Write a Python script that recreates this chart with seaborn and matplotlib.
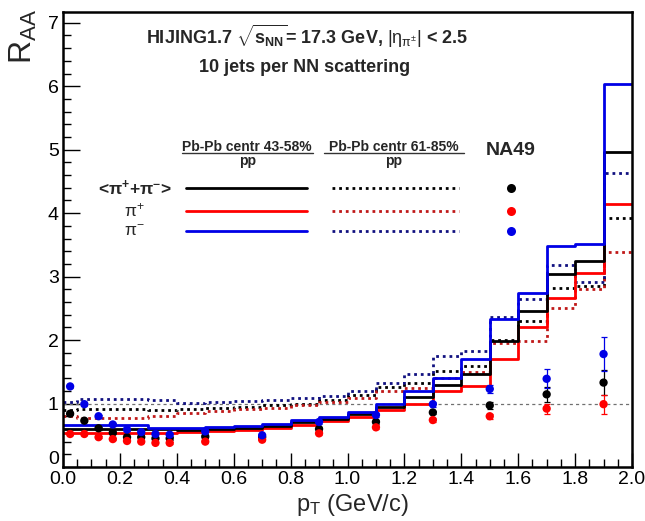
import numpy as np
import matplotlib
matplotlib.use("Agg")
import matplotlib.pyplot as plt
import matplotlib.transforms as mtransforms
import seaborn as sns

# pT bin edges (GeV/c) of the HIJING histograms
bin_edges = [0.0, 0.05, 0.1, 0.2, 0.3, 0.4, 0.5, 0.6, 0.7, 0.8, 0.9, 1.0,
             1.1, 1.2, 1.3, 1.4, 1.5, 1.6, 1.7, 1.8, 1.9, 2.0]

# HIJING R_AA, Pb-Pb centrality 43-58% / pp
raa_c43_avg = [0.60, 0.60, 0.60, 0.60, 0.60, 0.59, 0.60, 0.62, 0.65, 0.71, 0.76,
               0.83, 0.95, 1.11, 1.30, 1.46, 1.98, 2.46, 3.04, 3.25, 4.97]
raa_c43_pip = [0.54, 0.54, 0.53, 0.53, 0.53, 0.55, 0.57, 0.59, 0.61, 0.66, 0.72,
               0.79, 0.90, 0.99, 1.19, 1.28, 1.70, 2.21, 2.67, 3.05, 4.14]
raa_c43_pim = [0.66, 0.66, 0.66, 0.66, 0.62, 0.61, 0.625, 0.645, 0.68, 0.74, 0.79,
               0.87, 0.99, 1.19, 1.41, 1.70, 2.34, 2.735, 3.48, 3.51, 6.04]

# HIJING R_AA, Pb-Pb centrality 61-85% / pp
raa_c61_avg = [0.90, 0.91, 0.91, 0.91, 0.90, 0.92, 0.93, 0.95, 0.97, 1.00, 1.05,
               1.13, 1.255, 1.33, 1.51, 1.59, 2.00, 2.30, 2.82, 2.86, 3.92]
raa_c61_pip = [0.80, 0.77, 0.77, 0.77, 0.80, 0.85, 0.88, 0.91, 0.93, 0.97, 1.03,
               1.08, 1.19, 1.24, 1.40, 1.49, 1.96, 1.99, 2.51, 2.80, 3.39]
raa_c61_pim = [1.03, 1.07, 1.07, 1.07, 1.05, 1.01, 1.02, 1.04, 1.06, 1.08, 1.12,
               1.20, 1.33, 1.46, 1.75, 1.83, 2.36, 2.64, 3.19, 2.92, 4.64]

# NA49 measurements
na49_pt = [0.025, 0.075, 0.125, 0.175, 0.225, 0.275, 0.325, 0.375,
           0.5, 0.7, 0.9, 1.1, 1.3, 1.5, 1.7, 1.9]
na49_avg = [0.84, 0.73, 0.61, 0.54, 0.47, 0.47, 0.45, 0.45,
            0.48, 0.47, 0.60, 0.71, 0.86, 0.97, 1.145, 1.33]
na49_pip = [0.52, 0.52, 0.47, 0.44, 0.41, 0.40, 0.38, 0.38,
            0.40, 0.43, 0.53, 0.625, 0.74, 0.80, 0.92, 0.99]
na49_pim = [1.27, 0.99, 0.80, 0.67, 0.59, 0.55, 0.52, 0.51,
            0.56, 0.50, 0.71, 0.82, 0.99, 1.23, 1.39, 1.78]
na49_err_avg = [0.02, 0.02, 0.02, 0.02, 0.02, 0.02, 0.02, 0.02,
                0.02, 0.02, 0.03, 0.03, 0.03, 0.05, 0.12, 0.20]
na49_err_pip = [0.02, 0.02, 0.02, 0.02, 0.02, 0.02, 0.02, 0.02,
                0.02, 0.02, 0.03, 0.03, 0.03, 0.04, 0.08, 0.15]
na49_err_pim = [0.03, 0.03, 0.02, 0.02, 0.02, 0.02, 0.02, 0.02,
                0.02, 0.02, 0.03, 0.03, 0.04, 0.06, 0.15, 0.27]

x_ticks = [0.0, 0.2, 0.4, 0.6, 0.8, 1.0, 1.2, 1.4, 1.6, 1.8, 2.0]
y_ticks = [0, 1, 2, 3, 4, 5, 6, 7]

sns.set_style("ticks")
plt.rcParams["font.family"] = ["Liberation Sans", "DejaVu Sans"]
plt.rcParams["mathtext.fontset"] = "custom"
plt.rcParams["mathtext.rm"] = "Liberation Sans"
plt.rcParams["mathtext.it"] = "Liberation Sans"
plt.rcParams["mathtext.bf"] = "Liberation Sans:bold"
plt.rcParams["mathtext.sf"] = "Liberation Sans"

fig = plt.figure(figsize=(6.45, 5.21), dpi=100)
ax = fig.add_axes([63 / 645, 54 / 521, 569 / 645, 455 / 521])

BLACK = "#000000"
RED = "#ff0000"
BLUE = "#0000e6"
RED_DOT = "#c01818"
BLUE_DOT = "#101080"
DOTTED = (0, (1, 1.4))

edges = np.asarray(bin_edges)
centers = 0.5 * (edges[:-1] + edges[1:])

# reference line at R_AA = 1
ax.axhline(1.0, color="#707070", lw=0.9, ls=(0, (2.5, 2.5)), zorder=1)

hist_specs = [
    (raa_c61_avg, BLACK, DOTTED),
    (raa_c61_pip, RED_DOT, DOTTED),
    (raa_c61_pim, BLUE_DOT, DOTTED),
    (raa_c43_pip, RED, "-"),
    (raa_c43_avg, BLACK, "-"),
    (raa_c43_pim, BLUE, "-"),
]
for vals, col, ls in hist_specs:
    sns.histplot(x=centers, weights=vals, bins=bin_edges, element="step",
                 fill=False, color=col, linestyle=ls, linewidth=2.0, ax=ax,
                 zorder=2)

# NA49 points with error bars
for yv, err, col in [(na49_avg, na49_err_avg, BLACK),
                     (na49_pip, na49_err_pip, RED),
                     (na49_pim, na49_err_pim, BLUE)]:
    ax.errorbar(na49_pt, yv, yerr=err, fmt="none", ecolor=col, elinewidth=0.9,
                capsize=2.5, capthick=0.9, zorder=4)
    sns.scatterplot(x=na49_pt, y=yv, color=col, s=36, edgecolor="none",
                    linewidth=0, ax=ax, zorder=5)

ax.set_xlim(0, 2.0)
ax.set_ylim(0, 7.17)
ax.set_xticks(x_ticks)
ax.set_xticklabels([f"{v:.1f}" for v in x_ticks])
ax.set_yticks(y_ticks)
ax.set_yticklabels([str(v) for v in y_ticks])
ax.set_xticks(np.arange(0, 2.0001, 0.05), minor=True)
ax.set_yticks(np.arange(0, 7.1, 0.2), minor=True)
ax.tick_params(axis="both", which="both", direction="in", top=False,
               right=False, labelsize=14, colors="black")
ax.tick_params(axis="y", which="major", length=12, width=1.0, pad=3)
ax.tick_params(axis="y", which="minor", length=6, width=1.0)
ax.tick_params(axis="x", which="major", length=10, width=1.0, pad=3)
ax.tick_params(axis="x", which="minor", length=5.5, width=1.0)
for sp in ax.spines.values():
    sp.set_visible(True)
    sp.set_linewidth(1.8)
    sp.set_color("black")
ax.set_xlabel("")
ax.set_ylabel("")
ax.grid(False)

# lift the y "0" label so it sits just above the x-axis labels
zero_lbl = ax.get_yticklabels()[0]
zero_lbl.set_transform(zero_lbl.get_transform() +
                       mtransforms.ScaledTranslation(0, 7 / 72, fig.dpi_scale_trans))

# axis titles
fig.text(352 / 645, 1 - 505 / 521, r"p$_{\mathrm{T}}$ (GeV/c)", fontsize=17,
         ha="center", va="center")
fig.text(8 / 645, 1 - 9 / 521, r"R$_{\mathrm{AA}}$", fontsize=23,
         rotation=90, ha="left", va="top")

# header lines
ax.text(0.857, 6.78,
        r"HIJING1.7 $\sqrt{\mathbf{s}_{\mathbf{NN}}}$= 17.3 GeV, $|\eta_{\pi^{\pm}}|$ < 2.5",
        fontsize=13, fontweight="bold", ha="center", va="center")
ax.text(0.85, 6.29, "10 jets per NN scattering", fontsize=13,
        fontweight="bold", ha="center", va="center")

# legend block
for xc, x0, x1, lbl in [(0.647, 0.4175, 0.877, "Pb-Pb centr 43-58%"),
                        (1.162, 0.916, 1.408, "Pb-Pb centr 61-85%")]:
    ax.text(xc, 4.975, lbl, fontsize=10, fontweight="bold", ha="center",
            va="baseline")
    ax.plot([x0, x1], [4.95, 4.95], color="#333333", lw=1.0)
    ax.text(xc, 4.925, "pp", fontsize=10, fontweight="bold", ha="center",
            va="top")
ax.text(1.573, 4.995, "NA49", fontsize=14, fontweight="bold", ha="center",
        va="center")

rows = [
    (4.39, r"<$\mathbf{\pi^{+}}$+$\mathbf{\pi^{-}}$>", BLACK, BLACK, BLACK, "bold"),
    (4.04, r"$\pi^{+}$", RED, RED_DOT, RED, "normal"),
    (3.72, r"$\pi^{-}$", BLUE, BLUE_DOT, BLUE, "normal"),
]
for yr, lbl, c_solid, c_dot, c_pt, fw in rows:
    ax.text(0.253, yr, lbl, fontsize=12.5, fontweight=fw, ha="center",
            va="center")
    ax.plot([0.433, 0.858], [yr, yr], color=c_solid, lw=2.0)
    ax.plot([0.947, 1.393], [yr, yr], color=c_dot, lw=2.0, ls=DOTTED)
    ax.plot([1.573], [yr], marker="o", ms=6.5, color=c_pt, mec="none")

fig.savefig("out.png", dpi=100, facecolor="white")
